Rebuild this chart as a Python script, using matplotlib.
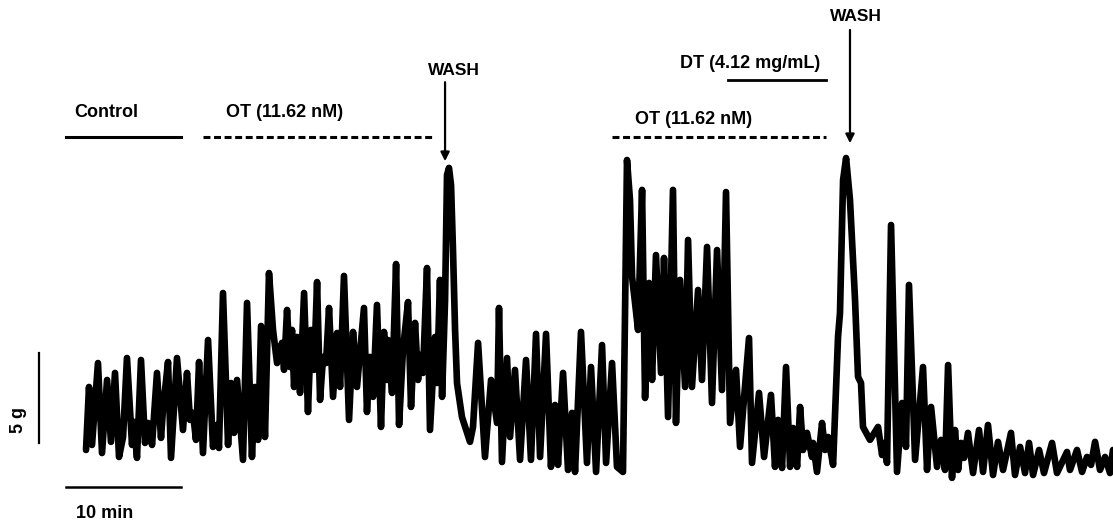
import matplotlib.pyplot as plt

# Isometric tension trace: vertices (time in min, force in g)
time_min = [
    1.74, 2.00, 2.26, 2.78, 3.13, 3.57, 3.91, 4.26, 4.61, 4.96,
    5.30, 5.74, 5.91, 6.17, 6.52, 6.87, 7.13, 7.48, 7.91, 8.26,
    8.43, 8.87, 9.13, 9.65, 10.17, 10.52, 10.78, 11.04, 11.30, 11.57,
    11.91, 12.35, 12.78, 13.13, 13.30, 13.65, 14.09, 14.35, 14.61, 14.87,
    15.39, 15.74, 16.17, 16.43, 16.70, 16.96, 17.30, 17.65, 18.00, 18.35,
    18.78, 18.96, 19.22, 19.48, 19.65, 19.83, 20.09, 20.35, 20.70, 21.04,
    21.30, 21.57, 21.83, 22.09, 22.35, 22.61, 22.87, 23.22, 23.57, 23.83,
    24.17, 24.61, 24.96, 25.30, 25.91, 26.17, 26.43, 26.70, 27.04, 27.39,
    27.65, 27.91, 28.00, 28.35, 28.70, 28.96, 29.30, 29.74, 30.00, 30.35,
    30.61, 30.78, 31.04, 31.39, 31.65, 32.09, 32.26, 32.52, 32.70,
    32.96, 33.13, 33.30, 33.48, 33.65, 33.83, 34.00, 34.43, 35.13, 35.39,
    35.83, 36.43, 36.96, 37.48, 37.65, 37.91, 38.35, 38.61, 39.04, 39.48,
    40.00, 40.43, 40.87, 41.22, 41.74, 42.17, 42.52, 42.78, 43.22, 43.65,
    44.00, 44.26, 44.78, 45.30, 45.65, 46.09, 46.61, 46.96, 47.48, 47.91,
    48.43,
    48.78, 49.04, 49.22, 49.48, 49.74, 50.09, 50.35, 50.70, 50.96, 51.30,
    51.74, 52.00, 52.35, 52.78, 53.04, 53.39, 53.83, 54.09, 54.43, 54.96,
    55.30, 55.74, 56.17, 56.61, 57.04, 57.39, 57.74, 58.26, 58.61, 59.39,
    59.65, 60.26, 60.70, 61.30, 61.65, 61.91, 62.26, 62.61, 62.96, 63.22,
    63.57, 63.83, 64.09, 64.43, 64.87, 64.96, 65.30, 65.74, 66.00, 66.26,
    66.70,
    67.13, 67.30, 67.57, 67.83, 68.17, 68.61, 68.87, 69.13, 69.30, 69.91,
    70.61, 70.96, 71.13, 71.39, 71.74, 72.26, 72.70, 73.04, 73.30, 73.83,
    74.52, 74.87, 75.22, 75.74, 76.09, 76.43, 76.70, 77.04, 77.30, 77.57,
    77.83, 78.09, 78.43, 78.87, 79.39, 79.74, 80.17, 80.61, 81.04, 81.48,
    82.17, 82.52, 82.96, 83.39, 83.74, 84.09, 84.61, 85.04, 85.74, 86.17,
    87.04, 87.30, 87.91, 88.35, 88.78, 89.13, 89.48, 89.91, 90.35, 90.78,
    91.04,
]
force_g = [
    1.11, 4.61, 1.39, 5.94, 0.94, 5.00, 1.56, 5.39, 0.72, 1.83,
    6.22, 1.39, 2.67, 0.67, 6.11, 1.50, 2.61, 1.39, 5.39, 1.78,
    3.33, 6.00, 0.67, 6.22, 2.22, 5.39, 2.78, 3.17, 1.67, 6.00,
    0.94, 7.22, 1.28, 2.50, 1.22, 9.83, 1.39, 4.83, 2.06, 5.00,
    0.56, 9.28, 0.72, 4.61, 1.67, 8.00, 1.83, 10.94, 7.78, 5.94,
    7.06, 5.56, 8.89, 5.72, 7.78, 4.61, 7.39, 4.28, 9.83, 3.22,
    7.78, 5.56, 10.44, 3.89, 6.28, 5.94, 9.00, 4.06, 7.61, 4.61,
    10.78, 2.78, 7.67, 4.61, 9.00, 3.22, 6.28, 4.06, 9.17, 2.39,
    7.67, 5.00, 7.22, 4.28, 11.44, 2.50, 6.67, 9.33, 3.50, 8.17,
    5.00, 6.39, 5.39, 11.22, 2.22, 7.39, 4.83, 10.56, 4.06,
    9.44, 16.39, 16.78, 15.83, 12.22, 7.78, 4.83, 2.94, 1.56, 2.39,
    7.06, 0.72, 5.00, 2.61, 9.00, 0.44, 6.22, 1.83, 5.56, 0.56,
    6.11, 0.56, 7.56, 0.72, 7.56, 0.17, 3.61, 0.28, 5.39, 0.00,
    3.17, -0.11, 7.67, 0.39, 5.72, -0.11, 6.94, 0.39, 5.94, 0.17,
    -0.11,
    17.22, 15.00, 10.72, 9.28, 7.78, 15.56, 4.00, 10.39, 5.00, 11.94,
    5.39, 11.78, 2.94, 15.56, 2.61, 10.56, 4.61, 12.78, 4.61, 10.00,
    5.00, 12.39, 3.72, 12.22, 4.44, 15.44, 2.61, 5.56, 1.28, 7.33,
    0.39, 4.28, 0.72, 4.17, 0.17, 2.78, 0.11, 5.72, 0.17, 2.33,
    0.17, 3.50, 1.11, 2.06, 0.72, 1.50, -0.11, 2.61, 1.11, 1.83,
    0.28,
    7.39, 8.72, 16.11, 17.33, 15.00, 9.44, 5.17, 4.83, 2.39, 1.67,
    2.39, 0.83, 1.50, 0.39, 13.61, -0.11, 3.72, 1.28, 10.28, 0.56,
    5.72, 0.00, 3.50, 0.17, 1.67, 0.00, 5.83, -0.44, 2.22, 0.00,
    1.50, 0.67, 2.06, -0.17, 2.22, -0.11, 2.50, -0.28, 1.56, 0.00,
    2.06, -0.28, 1.28, -0.17, 1.50, -0.28, 1.11, -0.17, 1.50, -0.17,
    1.00, 0.00, 1.11, -0.11, 0.72, 0.28, 1.56, 0.00, 0.72, -0.17,
    1.11,
]

# Treatment bars (start, end in min), their level (g) and labels
control_span = (0.0, 10.0)
ot1_span = (11.91, 31.91)
ot2_span = (47.48, 66.09)
dt_span = (57.57, 66.09)
bar_level = 18.5
dt_level = 21.67
wash_times = [32.96, 68.17]

plt.rcParams["font.family"] = ["Liberation Sans", "DejaVu Sans"]
plt.rcParams["font.weight"] = "bold"
plt.rcParams["lines.scale_dashes"] = False

fig = plt.figure(figsize=(11.13, 5.27), dpi=100)
ax = fig.add_axes([0, 0, 1, 1])
ax.set_xlim(-5.74, 91.04)
ax.set_ylim(-3.17, 26.11)
ax.axis("off")

# the trace
ax.plot(time_min, force_g, color="black", linewidth=4.8,
        solid_joinstyle="round", solid_capstyle="round")

# treatment bars
ax.plot(control_span, [bar_level] * 2, color="black", linewidth=2.2)
ax.plot(ot1_span, [bar_level] * 2, color="black", linewidth=2.2, dashes=(5, 2.6))
ax.plot(ot2_span, [bar_level] * 2, color="black", linewidth=2.2, dashes=(5, 2.6))
ax.plot(dt_span, [dt_level] * 2, color="black", linewidth=2.0)

ax.text(0.7, 19.86, "Control", fontsize=13, ha="left", va="center")
ax.text(13.9, 19.86, "OT (11.62 nM)", fontsize=13, ha="left", va="center")
ax.text(49.5, 19.45, "OT (11.62 nM)", fontsize=13, ha="left", va="center")
ax.text(53.4, 22.6, "DT (4.12 mg/mL)", fontsize=13, ha="left", va="center")

# wash arrows
ax.annotate("", xy=(wash_times[0], 17.0), xytext=(wash_times[0], 21.7),
            arrowprops=dict(arrowstyle="-|>", color="black", lw=1.6, mutation_scale=13))
ax.text(wash_times[0] + 0.75, 22.2, "WASH", fontsize=12.5, ha="center", va="center")
ax.annotate("", xy=(wash_times[1], 18.0), xytext=(wash_times[1], 24.6),
            arrowprops=dict(arrowstyle="-|>", color="black", lw=1.6, mutation_scale=13))
ax.text(wash_times[1] + 0.5, 25.2, "WASH", fontsize=12.5, ha="center", va="center")

# scale bars
ax.plot([-2.34, -2.34], [1.5, 6.5], color="black", linewidth=1.6)
ax.text(-4.1, 2.8, "5 g", fontsize=13, rotation=90, ha="center", va="center")
ax.plot([0.0, 10.0], [-0.94, -0.94], color="black", linewidth=1.8)
ax.text(0.85, -2.44, "10 min", fontsize=13, ha="left", va="center")

fig.savefig("out.png", dpi=100)
plt.close(fig)
